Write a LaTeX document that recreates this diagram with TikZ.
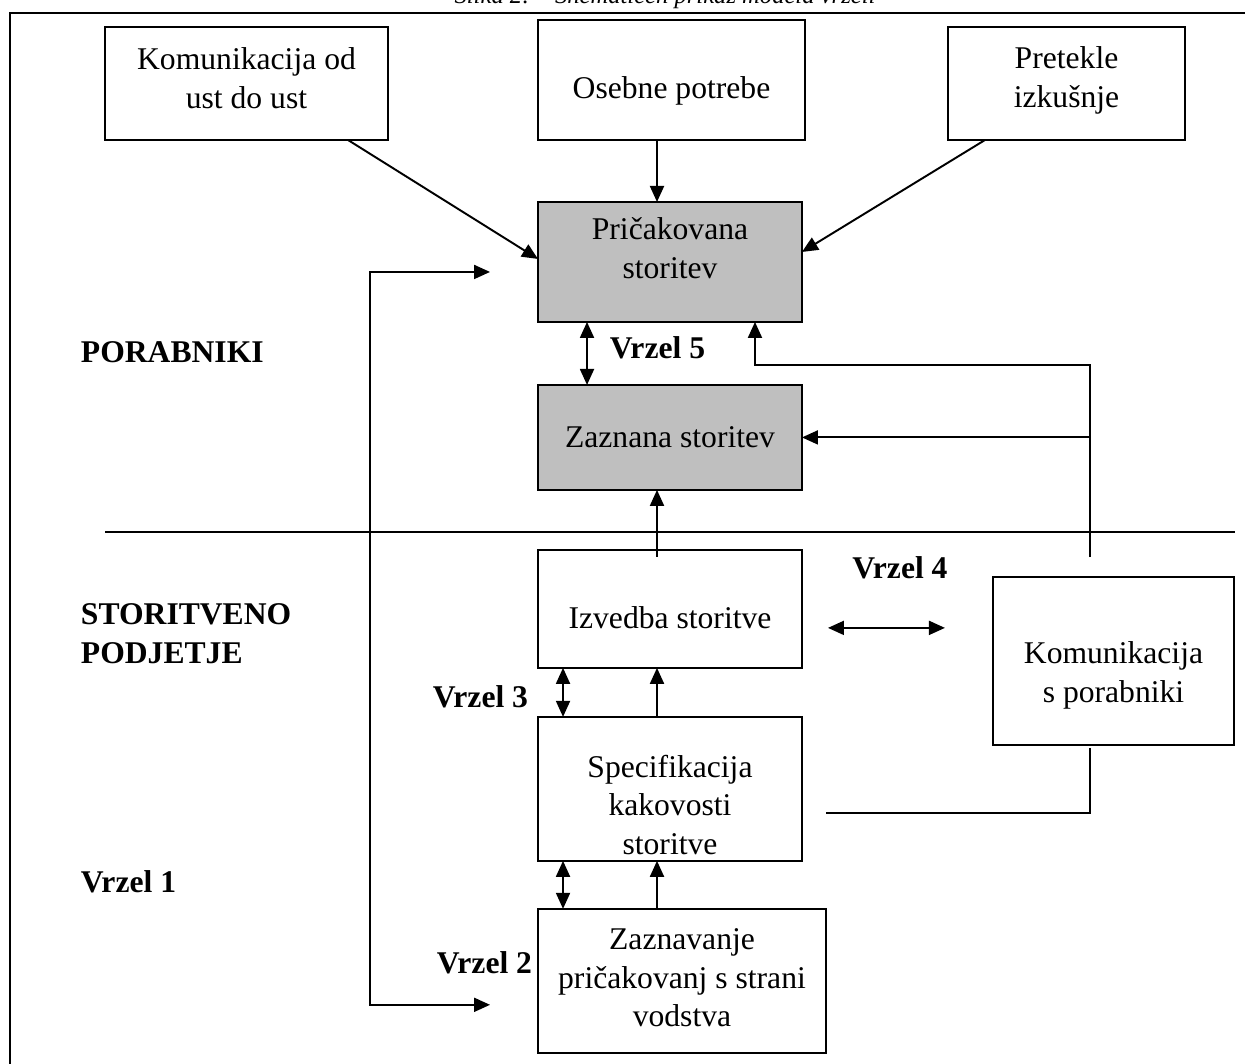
\documentclass[tikz,border=0pt]{standalone}
\usepackage{fontspec}
\setmainfont{Liberation Serif}
\usetikzlibrary{arrows.meta,positioning}

\begin{document}
\begin{tikzpicture}[x=0.02cm, y=-0.02cm, align=center, line width=1.1pt,
    >={Triangle[length=0.32cm, width=0.28cm]}]
    \tikzset{
        n/.style        =   { rectangle
                            , draw=black
                            , outer sep=0pt
        }
        , col/.style    =   { n
                            , minimum width=5.28cm
        }
        , shaded/.style =   { fill=black!25
        }
        , txt/.style    =   { font=\fontsize{18}{22}\selectfont
                            , align=center
                            , inner sep=0pt
        }
        , gap/.style    =   { font=\fontsize{18}{22}\selectfont\bfseries
                            , inner sep=0pt
        }
        , arrow/.style  =   { ->
        }
        , twoway/.style =   { <->
        }
    }
    \useasboundingbox (0,0) rectangle (1245,1064);

    % caption and frame
    \node(0) at (665,4) [anchor=base, font=\fontsize{14}{16}\selectfont\itshape]
        {Slika 2:\quad Shematičen prikaz modela vrzeli};
    \draw (10,1070) -- (10,13) -- (1250,13);
    \draw (105,532) -- (1235,532);

    % boxes, text set as centred labels
    \node(1)[n, minimum width=5.66cm, minimum height=2.26cm,
        label={[txt, yshift=0.11cm]center:Komunikacija od\\ust do ust}] at (246.5,83.5) {};
    \node(2)[n, minimum width=5.34cm, minimum height=2.4cm,
        label={[txt, yshift=-0.22cm]center:Osebne potrebe}] at (671.5,80) {};
    \node(3)[n, minimum width=4.74cm, minimum height=2.26cm,
        label={[txt, yshift=0.06cm]center:Pretekle\\izkušnje}] at (1066.5,83.5) {};
    \node(4)[col, shaded, minimum height=2.4cm, below=1.24cm of 2.south west, anchor=north west,
        label={[txt, yshift=0.27cm]center:Pričakovana\\storitev}] {};
    \node(5)[col, shaded, minimum height=2.1cm, below=1.26cm of 4,
        label={[txt]center:Zaznana storitev}] {};
    \node(6)[col, minimum height=2.36cm, below=1.2cm of 5,
        label={[txt, yshift=-0.18cm]center:Izvedba storitve}] {};
    \node(7)[col, minimum height=2.88cm, below=0.98cm of 6,
        label={[txt, yshift=-0.32cm]center:Specifikacija\\kakovosti\\storitve}] {};
    \node(8)[n, minimum width=5.76cm, minimum height=2.88cm, below=0.96cm of 7.south west, anchor=north west,
        label={[txt, yshift=0.06cm]center:Zaznavanje\\pričakovanj s strani\\vodstva}] {};
    \node(9)[n, minimum width=4.82cm, minimum height=3.36cm,
        label={[txt, yshift=-0.29cm]center:Komunikacija\\s porabniki}] at (1113.5,661) {};

    % side labels
    \node(10)[gap, anchor=west, align=left] at (80,352) {PORABNIKI};
    \node(11)[gap, anchor=west, align=left] at (80,634) {STORITVENO\\PODJETJE};
    \node(12)[gap, anchor=west] at (80,882) {Vrzel 1};
    \node(13)[gap, anchor=east] at (533,963) {Vrzel 2};
    \node(14)[gap, anchor=east] at (529,697) {Vrzel 3};
    \node(15)[gap] at (900,568) {Vrzel 4};
    \node(16)[gap, anchor=west] at (609,348) {Vrzel 5};

    \draw[arrow]  ([xshift=-0.8cm]1.south east) -- ([yshift=0.06cm]4.west);
    \draw[arrow]  ([xshift=2.38cm]2.south west) -- ([xshift=2.38cm]4.north west);
    \draw[arrow]  ([xshift=0.74cm]3.south west) -- ([yshift=0.2cm]4.east);
    \draw[twoway] ([xshift=0.98cm]4.south west) -- ([xshift=0.98cm]5.north west);
    \draw[arrow]  ([xshift=-0.47cm, yshift=0.4cm]9.north)
                  |- ([xshift=4.34cm, yshift=-0.86cm]4.south west)
                  -- ([xshift=4.34cm]4.south west);
    \draw[arrow]  ([xshift=-0.47cm]9.north |- 5.east) -- (5.east);
    \draw[arrow]  ([xshift=2.38cm, yshift=-0.14cm]6.north west) -- ([xshift=2.38cm]5.south west);
    \draw[twoway] ([shift={(0.52cm,-0.38cm)}]6.east) -- ++(2.34cm,0);
    \draw[twoway] ([xshift=0.5cm]6.south west) -- ([xshift=0.5cm]7.north west);
    \draw[arrow]  ([xshift=2.38cm]7.north west) -- ([xshift=2.38cm]6.south west);
    \draw[twoway] ([xshift=0.5cm]7.south west) -- ([xshift=0.5cm]8.north west);
    \draw[arrow]  ([xshift=2.38cm]8.north west) -- ([xshift=2.38cm]7.south west);
    \draw         ([xshift=-0.47cm, yshift=-0.06cm]9.south)
                  |- ([xshift=0.48cm, yshift=-0.48cm]7.east);
    \draw[twoway] ([xshift=-0.96cm, yshift=-0.2cm]4.west) -- ++(-2.4cm,0)
                  |- ([xshift=-0.96cm, yshift=-0.48cm]8.west);
\end{tikzpicture}
\end{document}
